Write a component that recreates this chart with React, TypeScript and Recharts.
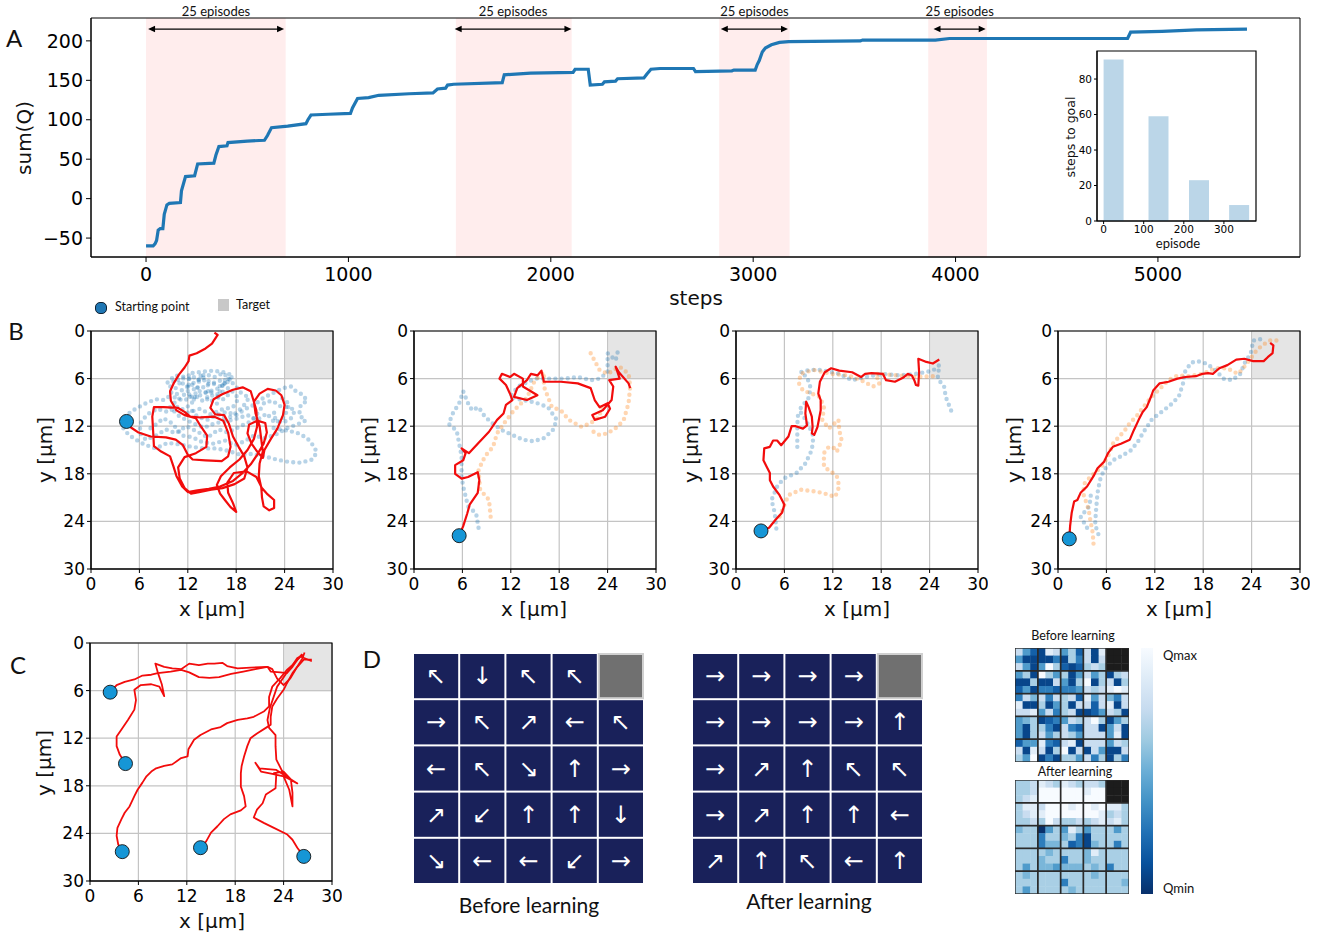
import React from 'react';
import {
  ComposedChart, ScatterChart, BarChart, Line, Scatter, Bar, XAxis, YAxis,
  CartesianGrid, ReferenceArea, ReferenceLine,
} from 'recharts';

type P = [number, number];

const SANS = "'DejaVu Sans', sans-serif";
const LABEL = "Lato, 'Open Sans', sans-serif";

// ---------- panel A: sum(Q) over training steps ----------
const sumQCurve: P[] = [
  [0, -60], [35, -60], [45, -57], [52, -53], [60, -40], [70, -38], [83, -38], [90, -20], [103, -8], [115, -6],
  [170, -5], [175, 10], [195, 28], [240, 29], [255, 44], [335, 45], [345, 55], [360, 66], [400, 67], [405, 71],
  [500, 73], [585, 74], [600, 80], [620, 90], [700, 92], [790, 95], [800, 100], [815, 106], [900, 107], [1010, 108],
  [1020, 115], [1045, 127], [1100, 128], [1150, 131], [1300, 133], [1418, 134], [1440, 139], [1480, 140], [1490, 144],
  [1520, 145], [1760, 147], [1770, 157], [1900, 159], [2110, 160], [2120, 164], [2185, 164], [2195, 144], [2255, 145],
  [2265, 148], [2320, 149], [2330, 152], [2460, 153], [2475, 158], [2495, 164], [2540, 165], [2705, 165], [2715, 161],
  [2895, 162], [2905, 163], [3010, 163], [3020, 170], [3030, 175], [3045, 186], [3060, 191], [3090, 195], [3130, 198],
  [3175, 199], [3530, 200], [3540, 201], [3900, 201], [3970, 203], [4850, 203], [4865, 211], [5020, 212], [5190, 214],
  [5440, 215],
];
const episodeBands: P[] = [[0, 690], [1531, 2103], [2832, 3180], [3865, 4155]];
const episodeArrows: P[] = [[10, 682], [1525, 2102], [2840, 3172], [3891, 4149]];
const bandLabel = '25 episodes';

// inset: steps to goal per episode bin
const insetEpisodes = [25, 137, 238, 338];
const insetSteps = [91, 59, 23, 9];

// ---------- panel B: trajectories ----------
const b1Red: P[] = [
  [4.4, 11.4], [5.0, 12.2], [5.9, 12.8], [7.4, 13.3], [9.3, 13.4], [10.5, 13.7], [11.4, 14.4], [12.0, 15.6], [12.6, 16.2],
  [14.2, 16.3], [16.2, 16.4], [17.0, 15.8], [17.3, 14.6], [17.0, 12.8], [16.4, 11.3], [15.3, 10.8], [13.6, 10.9], [12.3, 10.8],
  [11.6, 10.2], [10.8, 9.7], [9.0, 9.6], [7.8, 9.6], [7.6, 10.8], [7.7, 12.6], [7.8, 14.5], [8.7, 15.2], [9.8, 15.8],
  [10.2, 17.0], [10.6, 18.3], [11.3, 19.6], [12.0, 20.3], [13.2, 20.1], [14.6, 19.9], [16.0, 19.6], [17.6, 18.9], [18.8, 17.9],
  [19.8, 16.8], [20.6, 15.6], [21.4, 14.2], [21.8, 12.8], [21.6, 11.6], [20.6, 11.3], [19.6, 11.8], [19.4, 12.9], [19.9, 14.2],
  [20.6, 15.2], [21.3, 16.0], [21.5, 15.0], [22.3, 13.6], [23.1, 12.3], [23.8, 10.6], [24.0, 9.3], [23.6, 8.1], [22.9, 7.5],
  [21.9, 7.3], [20.9, 7.9], [20.2, 8.9], [20.4, 10.4], [20.9, 12.0], [21.1, 13.6], [21.3, 15.2], [20.9, 16.7], [20.8, 18.3],
  [21.1, 19.7], [21.9, 20.6], [22.7, 21.3], [22.7, 22.3], [22.1, 22.6], [21.4, 22.1], [21.2, 21.0], [21.1, 19.6], [20.5, 18.4],
  [19.3, 17.7], [17.7, 17.9], [16.9, 19.1], [17.0, 20.4], [17.6, 21.7], [18.0, 22.8], [17.3, 22.2], [16.6, 21.3], [16.0, 20.5],
  [15.6, 19.4], [16.1, 18.3], [17.2, 17.2], [18.4, 16.2], [19.4, 15.0], [20.2, 13.6], [20.6, 12.0], [20.5, 10.0], [20.1, 8.6],
  [19.8, 7.6], [18.8, 7.1], [17.6, 7.4], [16.2, 8.0], [15.2, 8.6], [14.8, 9.7], [15.4, 10.5], [16.5, 10.6], [17.1, 11.7],
  [17.6, 13.3], [18.3, 14.6], [19.0, 15.8], [19.4, 17.2], [19.0, 18.6], [17.8, 19.3], [16.3, 19.8], [14.9, 20.0], [13.4, 20.3],
  [12.4, 20.5], [11.6, 19.8], [11.0, 18.6], [10.8, 17.2], [11.6, 15.9], [13.0, 15.4], [14.3, 14.6], [14.4, 13.2], [13.6, 12.0],
  [13.0, 11.0], [11.6, 10.6], [10.6, 10.0], [9.9, 8.8], [9.8, 7.6], [10.3, 6.5], [10.9, 5.5], [11.6, 4.6], [12.1, 3.8],
  [12.2, 3.1], [13.1, 2.8], [14.2, 2.2], [15.0, 1.6], [15.5, 0.8], [15.7, 0.5], [15.3, 0.2],
];
const b1Blue1: P[] = [
  [10.5, 7.2], [11.4, 6.0], [12.3, 5.5], [13.3, 6.2], [14.1, 5.4], [15.3, 5.8], [16.4, 5.3], [17.2, 6.1], [16.1, 7.0], [14.8, 6.5],
  [13.6, 7.3], [12.4, 6.7], [11.2, 7.5], [10.2, 8.3], [11.5, 8.8], [12.8, 8.1], [14.0, 8.9], [15.2, 8.0], [16.4, 8.6], [17.5, 7.6],
  [18.3, 8.5], [17.6, 9.6], [16.2, 9.9], [14.8, 10.5], [13.5, 9.8], [12.0, 10.3], [10.8, 9.5], [9.5, 10.2], [8.2, 9.8], [7.0, 10.5],
  [6.2, 11.5], [6.0, 12.8], [6.8, 13.7], [8.0, 13.2], [9.3, 12.4], [10.5, 12.9], [11.8, 12.0], [13.0, 12.6], [14.5, 13.4],
  [15.8, 12.4], [17.0, 12.8], [18.5, 12.0], [19.8, 11.4], [20.8, 10.2], [21.5, 9.0], [22.5, 8.8], [23.5, 9.5], [24.5, 9.6],
  [25.3, 10.0], [24.8, 11.0], [23.7, 11.6], [22.6, 10.8], [22.8, 9.8],
];
const b1Blue2: P[] = [
  [12.6, 5.3], [14.0, 5.1], [15.2, 5.0], [16.5, 5.2], [17.6, 5.6], [16.8, 6.6], [15.6, 7.3], [14.2, 7.8], [12.9, 7.4], [11.6, 6.8],
  [10.6, 6.0], [9.8, 6.8], [10.0, 8.0], [9.1, 8.7], [8.0, 8.6], [6.6, 9.2], [5.2, 10.0], [4.2, 10.8], [3.8, 12.0], [4.6, 13.0],
  [5.4, 13.6], [6.6, 14.3], [8.0, 14.8], [9.5, 14.1], [11.0, 14.3], [12.5, 14.6], [14.0, 14.8], [15.5, 14.8], [17.0, 15.1],
  [18.5, 15.6], [20.0, 15.5], [21.5, 15.8], [23.0, 16.2], [24.5, 16.5], [26.0, 16.6], [27.4, 16.2], [28.0, 15.3], [27.6, 14.5],
  [26.8, 13.5], [25.5, 12.8], [24.0, 12.5], [22.5, 12.2],
];
const b1Blue3: P[] = [
  [12.0, 9.5], [13.2, 10.8], [14.4, 11.2], [15.6, 10.6], [16.8, 10.2], [18.0, 10.6], [19.2, 9.8], [20.4, 9.2], [21.4, 8.4],
  [22.6, 7.8], [23.8, 7.2], [24.8, 7.0], [25.4, 7.6], [26.2, 8.0], [26.8, 8.8], [26.0, 9.3], [25.8, 10.6], [26.6, 11.3],
  [25.5, 11.8], [24.4, 12.2], [23.0, 13.0], [21.6, 13.5], [20.2, 13.2], [19.0, 13.9], [17.8, 14.4], [16.6, 13.8], [15.2, 14.2],
  [13.8, 14.0], [12.6, 13.4], [11.4, 13.2], [10.0, 11.6], [9.0, 11.0], [8.0, 11.8], [7.2, 12.4],
];
const b1Blue4: P[] = [
  [9.5, 6.5], [10.4, 5.6], [11.8, 5.8], [12.8, 6.6], [13.8, 5.8], [15.0, 6.6], [16.2, 6.2], [17.0, 7.2], [15.8, 8.0], [14.4, 7.6],
  [13.0, 8.4], [11.8, 7.8], [10.6, 8.8], [9.8, 9.6], [11.0, 10.8], [12.6, 11.6], [14.0, 12.2], [15.4, 11.6], [16.8, 11.4],
  [18.2, 11.0], [19.4, 10.6], [20.6, 11.2], [21.8, 10.4], [22.8, 11.6], [24.0, 10.8], [24.6, 9.2], [23.6, 8.4],
];
const b1Blue5: P[] = [
  [12.2, 6.0], [12.0, 7.6], [12.6, 9.2], [13.2, 7.0], [13.6, 5.6], [14.6, 7.0], [14.4, 8.4], [15.6, 9.2], [16.0, 7.4],
  [16.8, 5.8], [17.8, 6.8], [18.6, 7.8], [19.6, 8.4], [18.8, 9.6], [17.4, 10.8], [16.0, 11.0],
];

const b2Red: P[] = [
  [5.6, 25.8], [6.1, 24.6], [6.6, 23.0], [6.9, 21.9], [7.9, 20.4], [8.1, 18.8], [7.9, 17.8], [6.7, 18.4], [5.9, 18.6], [5.1, 18.0],
  [5.1, 16.9], [6.1, 16.3], [6.4, 15.4], [5.9, 14.8], [6.8, 15.4], [7.9, 14.2], [9.3, 12.7], [10.3, 11.2], [11.1, 10.4],
  [11.4, 9.3], [12.2, 8.7], [11.9, 7.9], [11.4, 6.8], [10.6, 6.0], [10.9, 5.4], [11.9, 5.8], [12.4, 5.4], [13.5, 6.0],
  [13.5, 7.0], [15.3, 8.1], [14.0, 8.7], [12.4, 8.3], [12.8, 7.2], [14.0, 6.2], [14.5, 5.4], [15.3, 5.6], [15.8, 5.0],
  [16.1, 6.4], [16.6, 6.4], [18.2, 6.4], [20.3, 6.6], [21.9, 7.2], [22.4, 8.7], [23.0, 9.6], [24.0, 9.1], [24.3, 9.8],
  [23.7, 10.8], [22.4, 11.2], [22.1, 10.6], [23.4, 10.0], [24.5, 8.7], [24.7, 7.0], [24.2, 6.2], [25.5, 6.0], [25.0, 4.5],
  [25.4, 5.2], [26.6, 6.6], [26.8, 7.2],
];
const b2Blue: P[] = [
  [8.0, 24.8], [7.7, 23.0], [6.7, 22.1], [6.1, 19.6], [5.9, 18.4], [5.9, 15.8], [5.6, 14.2], [5.3, 12.6], [4.3, 11.7], [4.8, 10.4],
  [5.6, 9.1], [6.1, 7.6], [6.7, 9.1], [7.2, 10.0], [8.0, 9.6], [8.8, 10.8], [9.8, 11.7], [10.9, 12.5], [12.2, 13.1], [13.5, 13.7],
  [14.8, 13.9], [16.1, 13.5], [17.2, 12.5], [17.7, 11.2], [16.6, 9.6], [15.0, 9.0], [13.5, 8.7], [11.9, 8.3], [12.9, 7.0],
  [15.0, 6.0], [16.6, 6.0], [18.7, 6.0], [20.3, 5.8], [21.9, 6.2], [23.0, 6.0], [24.0, 5.2], [24.0, 2.8], [25.0, 3.7], [25.4, 2.0],
];
const b2Orange1: P[] = [
  [9.5, 23.4], [9.3, 21.3], [8.2, 20.0], [8.0, 17.5], [8.8, 15.8], [9.8, 14.6], [10.3, 12.9], [11.4, 11.3], [12.4, 10.0],
  [14.0, 8.4], [15.0, 6.2], [16.1, 5.2], [16.1, 7.0], [17.1, 9.6], [18.2, 10.0], [19.2, 11.2], [20.8, 12.1], [21.9, 11.6],
  [23.0, 10.8], [23.2, 9.6],
];
const b2Orange2: P[] = [
  [21.9, 2.8], [23.0, 4.9], [24.0, 5.4], [25.5, 4.5], [26.6, 5.4], [26.8, 7.0], [26.6, 9.1], [26.0, 11.2], [25.2, 12.1],
  [24.0, 12.9], [23.0, 13.1], [21.9, 12.5],
];

const b3Red: P[] = [
  [3.1, 25.2], [4.1, 24.8], [4.9, 23.8], [5.7, 22.9], [6.0, 21.9], [5.4, 20.7], [4.6, 19.6], [4.2, 18.8], [4.2, 17.9], [3.8, 17.1],
  [3.4, 16.3], [3.5, 14.8], [4.2, 14.6], [4.6, 13.8], [5.1, 13.8], [5.6, 14.4], [6.5, 13.3], [6.9, 12.0], [7.4, 12.0], [8.3, 12.3],
  [8.8, 11.9], [8.6, 10.4], [8.7, 8.9], [9.0, 9.6], [9.4, 10.8], [9.5, 12.1], [9.4, 12.9], [9.7, 13.1], [10.1, 12.1], [10.5, 10.0],
  [10.5, 8.7], [10.2, 7.9], [10.4, 6.4], [11.0, 5.2], [11.8, 4.7], [12.8, 5.0], [14.4, 5.2], [15.5, 5.8], [16.0, 5.4], [16.8, 5.3],
  [18.2, 5.4], [18.6, 6.2], [19.7, 6.4], [20.7, 5.9], [21.3, 5.4], [21.8, 5.6], [22.1, 6.2], [22.3, 6.8], [22.6, 6.9], [22.7, 5.2],
  [22.6, 3.5], [23.6, 3.9], [24.4, 4.1], [25.2, 3.6],
];
const b3Blue1: P[] = [
  [5.0, 24.9], [4.8, 22.9], [4.4, 21.3], [5.1, 19.6], [5.9, 18.6], [7.5, 17.9], [8.6, 16.7], [9.4, 15.0], [9.6, 13.3], [9.1, 12.1],
  [8.3, 10.6], [7.8, 10.0], [9.1, 8.3], [9.2, 7.0], [8.8, 5.8], [8.0, 5.2], [9.1, 4.9], [10.6, 4.9], [12.8, 5.4], [14.4, 6.2],
  [16.0, 5.8], [18.2, 5.4], [20.2, 5.6], [22.3, 5.4], [24.4, 5.0], [25.2, 4.3], [25.0, 6.0], [25.8, 7.0], [26.0, 8.3], [26.5, 9.6],
  [26.9, 10.6],
];
const b3Blue2: P[] = [[7.6, 14.6], [7.6, 13.2], [7.6, 11.8], [7.7, 10.4]];
const b3Orange: P[] = [
  [5.4, 23.4], [6.5, 20.7], [8.0, 20.0], [9.6, 20.2], [10.7, 20.4], [12.3, 20.9], [12.8, 19.6], [12.5, 18.3], [12.0, 17.9],
  [10.9, 17.1], [10.9, 15.4], [11.5, 14.6], [12.3, 14.8], [12.5, 15.2], [13.1, 13.8], [12.8, 12.5], [12.7, 11.2], [11.5, 12.3],
  [10.7, 11.2], [10.9, 9.6], [10.4, 8.3], [9.4, 7.9], [8.3, 7.5], [7.8, 6.6], [8.0, 5.4], [9.6, 4.9], [11.8, 5.4], [13.9, 5.6],
  [15.5, 6.2], [17.0, 7.0], [17.8, 6.6], [17.3, 5.4], [20.2, 5.6], [22.3, 5.8], [24.4, 5.7],
];

const b4Red: P[] = [
  [1.4, 26.2], [1.5, 24.6], [1.7, 22.9], [2.0, 21.5], [2.4, 21.3], [2.8, 20.4], [3.6, 19.6], [4.4, 18.3], [4.9, 17.3], [5.7, 16.5],
  [6.2, 15.4], [6.8, 14.6], [7.8, 14.2], [8.9, 13.7], [9.4, 12.5], [10.0, 11.2], [10.5, 10.2], [11.0, 9.6], [11.6, 8.1], [11.8, 7.5],
  [12.6, 6.6], [13.7, 6.4], [14.8, 6.0], [15.8, 5.8], [17.1, 5.7], [17.9, 5.4], [18.6, 5.3], [19.2, 5.4], [20.0, 4.7], [21.0, 4.3],
  [22.1, 3.6], [23.1, 3.5], [24.2, 3.8], [25.5, 3.8], [26.0, 3.3], [26.6, 2.8], [26.7, 1.8], [26.3, 1.5],
];
const b4Blue1: P[] = [
  [5.0, 25.6], [4.6, 24.4], [4.7, 22.8], [4.9, 20.4], [5.2, 18.8], [5.7, 17.5], [6.8, 16.3], [7.8, 15.8], [9.1, 15.0], [10.0, 13.8],
  [10.5, 12.9], [11.6, 11.2], [12.3, 10.6], [13.1, 10.0], [14.2, 9.1], [15.0, 8.2], [15.5, 6.6], [15.7, 5.2], [16.5, 4.0],
  [17.3, 3.8], [18.4, 4.1], [19.5, 4.9], [20.5, 6.0], [21.6, 6.2], [22.6, 5.4], [23.1, 4.1], [23.9, 2.8], [24.2, 1.2], [25.3, 1.0],
  [25.7, 1.0],
];
const b4Blue2: P[] = [[3.6, 24.8], [2.8, 23.4], [3.9, 22.1], [4.1, 20.4]];
const b4Orange: P[] = [
  [4.4, 26.8], [4.3, 25.4], [4.0, 23.8], [3.8, 22.5], [3.1, 20.4], [3.3, 19.2], [4.1, 18.3], [5.4, 17.1], [6.2, 15.8], [6.8, 14.2],
  [7.6, 13.3], [8.3, 12.5], [8.9, 11.6], [9.7, 10.8], [10.5, 9.7], [11.6, 8.3], [12.6, 7.3], [13.7, 6.2], [14.8, 5.6], [16.3, 5.7],
  [17.9, 5.4], [19.5, 4.7], [21.0, 4.7], [22.3, 5.4], [22.8, 4.9], [23.7, 3.7], [24.5, 2.6], [25.3, 1.8], [26.3, 1.2], [27.3, 1.2],
];

// ---------- panel C: learned trajectories from five starts ----------
const cStarts: P[] = [[2.5, 6.2], [4.4, 15.2], [4.0, 26.3], [13.7, 25.8], [26.5, 26.9]];
const cPath1: P[] = [
  [2.5, 6.2], [3.3, 5.3], [4.3, 4.9], [5.5, 4.6], [6.5, 4.1], [7.6, 4.0], [8.4, 3.8], [10.0, 3.6], [11.3, 3.4], [12.3, 3.7],
  [13.5, 4.3], [14.8, 4.4], [16.0, 4.3], [17.5, 3.9], [19.0, 3.6], [20.5, 3.3], [22.0, 3.0], [22.6, 3.3], [23.2, 4.5], [24.0, 5.3],
  [24.8, 4.5], [25.5, 3.3], [26.3, 2.0], [26.6, 1.2],
];
const cPath2: P[] = [
  [4.4, 15.2], [3.7, 14.1], [3.3, 13.0], [3.3, 11.8], [3.9, 10.9], [4.7, 9.7], [5.5, 8.4], [5.7, 7.2], [5.5, 5.9], [6.3, 5.3],
  [7.6, 5.2], [8.6, 5.5], [9.2, 6.7], [8.9, 5.2], [8.4, 3.7], [8.1, 2.6], [9.2, 3.0], [10.2, 3.2], [11.3, 3.3], [12.3, 2.6],
  [13.5, 2.8], [14.6, 2.6], [15.4, 2.6], [16.4, 2.5], [17.0, 2.9], [18.3, 3.2], [19.9, 3.1], [22.0, 3.0], [22.4, 3.6], [23.6, 3.7],
  [24.4, 3.8], [25.1, 3.0], [25.7, 2.1], [26.3, 1.4],
];
const cPath3: P[] = [
  [4.0, 26.3], [3.5, 25.4], [3.3, 24.3], [3.4, 23.3], [3.9, 22.2], [4.3, 21.4], [4.9, 20.6], [5.5, 19.3], [5.9, 18.5], [6.5, 17.6],
  [7.0, 16.8], [7.6, 16.2], [8.2, 15.8], [9.2, 15.5], [10.2, 15.3], [11.3, 14.5], [12.1, 14.3], [12.2, 13.4], [12.9, 12.2],
  [13.7, 11.6], [15.0, 10.9], [16.2, 10.6], [17.0, 10.1], [18.3, 9.7], [19.5, 9.5], [20.3, 9.3], [21.6, 8.6], [22.2, 8.0],
  [22.2, 6.8], [22.6, 5.5], [23.6, 4.4], [24.4, 3.4], [25.1, 2.8], [25.7, 1.9], [26.5, 1.5],
];
const cPath4: P[] = [
  [13.7, 25.8], [14.4, 25.0], [15.0, 23.9], [15.8, 23.1], [16.6, 22.2], [17.4, 21.6], [18.7, 21.1], [19.3, 20.6], [19.1, 19.3],
  [18.7, 18.1], [18.7, 16.4], [18.8, 15.5], [19.1, 14.3], [19.5, 13.0], [19.9, 12.0], [20.7, 11.4], [21.8, 10.7], [22.4, 10.3],
  [22.4, 9.3], [22.6, 8.0], [23.2, 7.0], [24.0, 5.9], [24.4, 5.1], [25.1, 3.8], [25.7, 3.0], [26.5, 2.1], [27.5, 2.1],
];
const cPath5: P[] = [
  [26.5, 26.9], [25.7, 25.8], [25.1, 24.8], [24.4, 24.1], [22.8, 23.3], [21.6, 22.7], [20.3, 22.0], [20.7, 21.0], [21.4, 20.2],
  [21.8, 19.1], [23.0, 18.3], [23.1, 16.4], [22.8, 16.4], [24.0, 16.2], [24.9, 17.2], [25.1, 18.9], [25.1, 20.6], [24.7, 18.5],
  [24.0, 16.8], [22.6, 16.5], [21.2, 16.2], [20.5, 15.1], [21.0, 15.8], [23.1, 16.0], [25.7, 17.7], [24.2, 16.9], [23.1, 14.7],
  [23.0, 13.0], [23.0, 11.6], [22.2, 10.7], [22.0, 9.7], [22.3, 8.2], [23.2, 5.5], [24.9, 3.0], [26.1, 1.7], [27.5, 2.3],
];

// ---------- panel D: greedy policy and Q tables ----------
const policyBefore = [
  ['↖', '↓', '↖', '↖', ''],
  ['→', '↖', '↗', '←', '↖'],
  ['←', '↖', '↘', '↑', '→'],
  ['↗', '↙', '↑', '↑', '↓'],
  ['↘', '←', '←', '↙', '→'],
];
const policyAfter = [
  ['→', '→', '→', '→', ''],
  ['→', '→', '→', '→', '↑'],
  ['→', '↗', '↑', '↖', '↖'],
  ['→', '↗', '↑', '↑', '←'],
  ['↗', '↑', '↖', '←', '↑'],
];
// 0 = Qmax ... 9 = Qmin, -1 = target (masked)
const qBefore = [
  [2, 5, 7, 8, 1, 2, 5, 3, 7, 2, 8, 1, -1, -1, -1],
  [5, 8, 8, 8, 8, 6, 8, 3, 6, 2, 8, 2, -1, -1, -1],
  [2, 5, 8, 5, 0, 3, 7, 8, 7, 3, 2, 3, -1, -1, -1],
  [5, 3, 8, 0, 3, 5, 3, 8, 5, 2, 5, 3, 8, 3, 2],
  [8, 8, 3, 8, 8, 2, 5, 8, 3, 0, 8, 3, 2, 8, 3],
  [7, 5, 8, 6, 6, 7, 6, 6, 5, 2, 3, 2, 1, 0, 1],
  [6, 2, 4, 2, 6, 2, 3, 2, 7, 1, 5, 2, 4, 6, 2],
  [1, 8, 8, 3, 8, 5, 3, 8, 2, 2, 7, 2, 1, 8, 2],
  [2, 2, 1, 5, 2, 6, 3, 2, 8, 8, 7, 5, 2, 3, 8],
  [5, 4, 3, 8, 7, 6, 5, 2, 3, 2, 0, 3, 8, 5, 3],
  [5, 8, 3, 3, 6, 8, 2, 6, 7, 2, 2, 8, 5, 2, 8],
  [5, 8, 3, 2, 5, 3, 2, 3, 5, 2, 2, 2, 5, 1, 8],
  [7, 5, 5, 1, 6, 7, 2, 1, 8, 2, 2, 2, 5, 2, 3],
  [2, 8, 1, 2, 8, 3, 0, 8, 2, 8, 2, 5, 8, 8, 2],
  [3, 5, 0, 8, 6, 8, 3, 3, 5, 2, 6, 3, 8, 3, 6],
];
const qAfter = [
  [3, 3, 2, 1, 2, 3, 1, 2, 3, 2, 2, 3, -1, -1, -1],
  [3, 3, 2, 0, 0, 0, 0, 0, 0, 1, 0, 0, -1, -1, -1],
  [3, 2, 1, 0, 0, 0, 0, 0, 0, 0, 0, 0, -1, -1, -1],
  [3, 1, 1, 2, 0, 0, 0, 1, 0, 0, 1, 0, 1, 1, 3],
  [3, 2, 1, 1, 0, 0, 0, 0, 0, 0, 0, 1, 3, 2, 3],
  [3, 3, 2, 3, 0, 2, 3, 3, 2, 3, 2, 1, 2, 1, 3],
  [4, 3, 3, 9, 5, 3, 5, 1, 3, 5, 3, 3, 3, 5, 3],
  [3, 3, 3, 6, 3, 3, 4, 3, 6, 8, 3, 3, 3, 3, 3],
  [3, 3, 3, 6, 4, 4, 3, 7, 6, 8, 4, 3, 3, 6, 3],
  [3, 3, 3, 3, 4, 3, 3, 3, 3, 4, 1, 3, 3, 3, 3],
  [3, 3, 3, 4, 3, 3, 6, 3, 3, 4, 3, 3, 3, 3, 3],
  [3, 5, 3, 4, 4, 5, 4, 4, 4, 3, 4, 3, 6, 3, 3],
  [3, 4, 3, 3, 3, 3, 3, 3, 3, 3, 4, 3, 3, 3, 3],
  [3, 3, 3, 3, 3, 3, 6, 3, 3, 3, 3, 3, 3, 3, 4],
  [3, 5, 3, 3, 3, 3, 3, 4, 3, 3, 3, 3, 3, 3, 3],
];
const blues = ['#f7fbff', '#e1edf8', '#c9ddf0', '#a9cfe5', '#7ab6d9', '#4f9bcb', '#2e7ebc', '#1460a8', '#08468b', '#08306b'];
// the 5x5 grid positions (centres of 3x3 blocks of Q-cells)
const blockCentres = [1, 4, 7, 10, 13];

const gridTicks = [0, 6, 12, 18, 24, 30];
const pts = (a: P[]) => a.map(([x, y]) => ({ x, y }));
const fmtMinus = (v: number) => (v < 0 ? '\u2212' + Math.abs(v) : String(v));

function Txt({ x, y, size, font = SANS, rotate = 0, align = 'center', children }: any) {
  const tx = align === 'left' ? '0' : '-50%';
  return (
    <div style={{
      position: 'absolute', left: x, top: y, fontSize: size, fontFamily: font, lineHeight: 1,
      whiteSpace: 'nowrap', color: '#111', transform: `translate(${tx},-50%) rotate(${rotate}deg)`,
    }}>{children}</div>
  );
}

const DoubleArrow = (p: any) => {
  const { x1, y1, x2, y2 } = p;
  return (
    <g>
      <line x1={x1 + 4} y1={y1} x2={x2 - 4} y2={y2} stroke="#000" strokeWidth={1.2} />
      <path d={`M${x1},${y1} l7,-3.2 l0,6.4 z M${x2},${y2} l-7,-3.2 l0,6.4 z`} fill="#000" />
    </g>
  );
};

function PanelA() {
  return (
    <div style={{ position: 'absolute', left: 0, top: 0 }}>
      <ComposedChart width={1330} height={287} margin={{ top: 18, right: 30, bottom: 0, left: 31 }}>
        <XAxis type="number" dataKey="x" domain={[-272, 5702]} ticks={[0, 1000, 2000, 3000, 4000, 5000]}
          allowDataOverflow height={30} stroke="#000" tickSize={5} tickMargin={6}
          tick={{ fill: '#000', fontSize: 19, fontFamily: SANS }} />
        <YAxis type="number" dataKey="y" domain={[-74, 229]} ticks={[-50, 0, 50, 100, 150, 200]}
          allowDataOverflow width={60} stroke="#000" tickSize={5} tickMargin={3} tickFormatter={fmtMinus}
          tick={{ fill: '#000', fontSize: 19, fontFamily: SANS }} />
        {episodeBands.map(([a, b], i) => (
          <ReferenceArea key={'band' + i} x1={a} x2={b} y1={-74} y2={229} fill="#ffeded" fillOpacity={1} stroke="none" />
        ))}
        <ReferenceArea x1={-272} x2={5702} y1={-74} y2={229} fill="none" stroke="#000" strokeWidth={1} />
        {episodeArrows.map(([a, b], i) => (
          <ReferenceLine key={'arr' + i} segment={[{ x: a, y: 215 }, { x: b, y: 215 }]} shape={DoubleArrow} />
        ))}
        <Line data={pts(sumQCurve)} dataKey="y" stroke="#1f77b4" strokeWidth={3.2} dot={false} activeDot={false}
          isAnimationActive={false} />
      </ComposedChart>
    </div>
  );
}

function Inset() {
  const data = insetEpisodes.map((x, i) => ({ x, v: insetSteps[i] }));
  return (
    <div style={{ position: 'absolute', left: 1067, top: 46 }}>
      <BarChart width={194} height={195} data={data} margin={{ top: 5, right: 5, bottom: 0, left: 0 }}>
        <XAxis type="number" dataKey="x" domain={[-16.5, 380]} ticks={[0, 100, 200, 300]} allowDataOverflow
          height={20} stroke="#000" tickSize={3} tickMargin={2} tick={{ fill: '#000', fontSize: 10.5, fontFamily: SANS }} />
        <YAxis type="number" domain={[0, 95.8]} ticks={[0, 20, 40, 60, 80]} allowDataOverflow width={30}
          stroke="#000" tickSize={3} tickMargin={2} tick={{ fill: '#000', fontSize: 10.5, fontFamily: SANS }} />
        <Bar dataKey="v" fill="#1f77b4" fillOpacity={0.3} barSize={20} isAnimationActive={false} />
        <ReferenceArea x1={-16.5} x2={380} y1={0} y2={95.8} fill="none" stroke="#000" strokeWidth={1.2} />
      </BarChart>
    </div>
  );
}

const StartDot = (p: any) => (
  <circle cx={p.cx} cy={p.cy} r={7} fill="#1696d6" stroke="#111" strokeWidth={0.9} />
);

function TrajPanel({ left, top, reds, blues: bl = [], oranges = [], starts, redWidth = 2.2 }:
  { left: number; top: number; reds: P[][]; blues?: P[][]; oranges?: P[][]; starts: P[]; redWidth?: number }) {
  const dotted = { strokeWidth: 4.4, strokeDasharray: '0 6.2', strokeLinecap: 'round' as const, strokeOpacity: 0.32 };
  return (
    <div style={{ position: 'absolute', left: left - 60, top: top - 10 }}>
      <ComposedChart width={312} height={278} margin={{ top: 10, right: 10, bottom: 0, left: 0 }}>
        <CartesianGrid stroke="#c4c4c4" strokeWidth={1.2} />
        <ReferenceArea x1={24} x2={30} y1={0} y2={6} fill="#e5e5e5" fillOpacity={1} stroke="#c4c4c4" />
        <XAxis type="number" dataKey="x" domain={[0, 30]} ticks={gridTicks} allowDataOverflow height={30}
          stroke="#000" tickSize={4} tickMargin={5} tick={{ fill: '#000', fontSize: 17, fontFamily: SANS }} />
        <YAxis type="number" dataKey="y" domain={[0, 30]} ticks={gridTicks} reversed allowDataOverflow width={60}
          stroke="#000" tickSize={4} tickMargin={2} tick={{ fill: '#000', fontSize: 17, fontFamily: SANS }} />
        {bl.map((b, i) => (
          <Line key={'b' + i} data={pts(b)} dataKey="y" stroke="#1f77b4" {...dotted} dot={false} activeDot={false}
            isAnimationActive={false} />
        ))}
        {oranges.map((b, i) => (
          <Line key={'o' + i} data={pts(b)} dataKey="y" stroke="#ff7f0e" {...dotted} dot={false} activeDot={false}
            isAnimationActive={false} />
        ))}
        {reds.map((r, i) => (
          <Line key={'r' + i} data={pts(r)} dataKey="y" stroke="#f20c0c" strokeWidth={redWidth} dot={false}
            activeDot={false} strokeLinejoin="round" isAnimationActive={false} />
        ))}
        <ReferenceArea x1={0} x2={30} y1={0} y2={30} fill="none" stroke="#000" strokeWidth={1.2} />
        <Scatter data={pts(starts)} shape={StartDot} isAnimationActive={false} />
      </ComposedChart>
    </div>
  );
}

const CELL = 231 / 5;
const ArrowCell = (p: any) => {
  const { cx, cy, payload } = p;
  const target = payload.a === '';
  return (
    <g>
      <rect x={cx - CELL / 2 + 1} y={cy - CELL / 2 + 1} width={CELL - 2} height={CELL - 2}
        fill={target ? '#707070' : '#19215a'} stroke={target ? '#d0d0d0' : 'none'} strokeWidth={target ? 2 : 0} />
      {!target && (
        <text x={cx} y={cy} textAnchor="middle" dominantBaseline="central" fill="#fff" fontSize={24}
          fontFamily={SANS}>{payload.a}</text>
      )}
    </g>
  );
};

function PolicyGrid({ left, top, arrows }: { left: number; top: number; arrows: string[][] }) {
  const cells = arrows.flatMap((row, r) => row.map((a, c) => ({ x: c, y: r, a })));
  return (
    <div style={{ position: 'absolute', left, top }}>
      <ScatterChart width={231} height={231} margin={{ top: 0, right: 0, bottom: 0, left: 0 }}>
        <XAxis type="number" dataKey="x" domain={[-0.5, 4.5]} hide />
        <YAxis type="number" dataKey="y" domain={[-0.5, 4.5]} reversed hide />
        <Scatter data={cells} shape={ArrowCell} isAnimationActive={false} />
      </ScatterChart>
    </div>
  );
}

const HM = 114;
const QS = HM / 15;
const HeatCell = (p: any) => {
  const v = p.payload.v;
  return (
    <rect x={p.cx - QS / 2} y={p.cy - QS / 2} width={QS + 0.4} height={QS + 0.4}
      fill={v < 0 ? '#1c1c1c' : blues[v]} />
  );
};
const BlockOutline = (p: any) => (
  <rect x={p.cx - QS * 1.5} y={p.cy - QS * 1.5} width={QS * 3} height={QS * 3}
    fill="none" stroke="#2b2b2b" strokeWidth={1.4} />
);

function Heatmap({ left, top, rows }: { left: number; top: number; rows: number[][] }) {
  const cells = rows.flatMap((row, r) => row.map((v, c) => ({ x: c, y: r, v })));
  const blocks = blockCentres.flatMap((y) => blockCentres.map((x) => ({ x, y })));
  return (
    <div style={{ position: 'absolute', left, top }}>
      <ScatterChart width={HM} height={HM} margin={{ top: 0, right: 0, bottom: 0, left: 0 }}>
        <XAxis type="number" dataKey="x" domain={[-0.5, 14.5]} hide />
        <YAxis type="number" dataKey="y" domain={[-0.5, 14.5]} reversed hide />
        <Scatter data={cells} shape={HeatCell} isAnimationActive={false} />
        <Scatter data={blocks} shape={BlockOutline} isAnimationActive={false} />
      </ScatterChart>
    </div>
  );
}

export default function App() {
  const bTops = 331;
  return (
    <div style={{ position: 'absolute', left: 0, top: 0, width: 1330, height: 936, background: '#fff', overflow: 'hidden' }}>
      <PanelA />
      <Inset />
      <Txt x={14} y={38} size={24} font={LABEL}>A</Txt>
      {episodeArrows.map(([a, b], i) => (
        <Txt key={'lab' + i} x={146 + ((a + b) / 2) * 0.2024} y={11} size={13} font={LABEL}>{bandLabel}</Txt>
      ))}
      <Txt x={24} y={138} size={20} rotate={-90}>sum(Q)</Txt>
      <Txt x={696} y={298} size={20}>steps</Txt>
      <Txt x={1071} y={137} size={12.5} rotate={-90}>steps to goal</Txt>
      <Txt x={1178} y={243} size={13} font={LABEL}>episode</Txt>

      {/* legend */}
      <div style={{ position: 'absolute', left: 95, top: 302, width: 10, height: 10, borderRadius: 5, background: '#1f77b4', border: '1px solid #123' }} />
      <Txt x={115} y={307} size={12.5} font={LABEL} align="left">Starting point</Txt>
      <div style={{ position: 'absolute', left: 218, top: 299, width: 11, height: 12, background: '#c8c8c8' }} />
      <Txt x={236} y={305} size={12.5} font={LABEL} align="left">Target</Txt>

      <Txt x={16} y={331} size={24} font={LABEL}>B</Txt>
      <TrajPanel left={91} top={bTops} reds={[b1Red]} blues={[b1Blue1, b1Blue2, b1Blue3, b1Blue4, b1Blue5]} starts={[[4.4, 11.4]]} />
      <TrajPanel left={414} top={bTops} reds={[b2Red]} blues={[b2Blue]} oranges={[b2Orange1, b2Orange2]} starts={[[5.6, 25.8]]} />
      <TrajPanel left={736} top={bTops} reds={[b3Red]} blues={[b3Blue1, b3Blue2]} oranges={[b3Orange]} starts={[[3.1, 25.2]]} />
      <TrajPanel left={1058} top={bTops} reds={[b4Red]} blues={[b4Blue1, b4Blue2]} oranges={[b4Orange]} starts={[[1.4, 26.2]]} />
      {[45, 369, 691, 1014].map((x) => (
        <Txt key={'yl' + x} x={x} y={450} size={20} rotate={-90}>y [µm]</Txt>
      ))}
      {[212, 534, 857, 1179].map((x) => (
        <Txt key={'xl' + x} x={x} y={609} size={20}>x [µm]</Txt>
      ))}

      <Txt x={18} y={665} size={24} font={LABEL}>C</Txt>
      <TrajPanel left={90} top={643} reds={[cPath1, cPath2, cPath3, cPath4, cPath5]} starts={cStarts} redWidth={1.8} />
      <Txt x={44} y={763} size={20} rotate={-90}>y [µm]</Txt>
      <Txt x={212} y={921} size={20}>x [µm]</Txt>

      <Txt x={372} y={659} size={24} font={LABEL}>D</Txt>
      <PolicyGrid left={413} top={653} arrows={policyBefore} />
      <PolicyGrid left={692} top={653} arrows={policyAfter} />
      <Txt x={529} y={904} size={21} font={LABEL}>Before learning</Txt>
      <Txt x={809} y={900} size={21} font={LABEL}>After learning</Txt>

      <Txt x={1073} y={636} size={12.5} font={LABEL}>Before learning</Txt>
      <Heatmap left={1015} top={648} rows={qBefore} />
      <Txt x={1075} y={772} size={12.5} font={LABEL}>After learning</Txt>
      <Heatmap left={1015} top={780} rows={qAfter} />
      <div style={{
        position: 'absolute', left: 1141, top: 648, width: 12, height: 246,
        background: 'linear-gradient(to bottom, #f7fbff, #deebf7, #c6dbef, #9ecae1, #6baed6, #4292c6, #2171b5, #08519c, #08306b)',
      }} />
      <Txt x={1163} y={655} size={13} font={LABEL} align="left">Qmax</Txt>
      <Txt x={1163} y={888} size={13} font={LABEL} align="left">Qmin</Txt>
    </div>
  );
}
